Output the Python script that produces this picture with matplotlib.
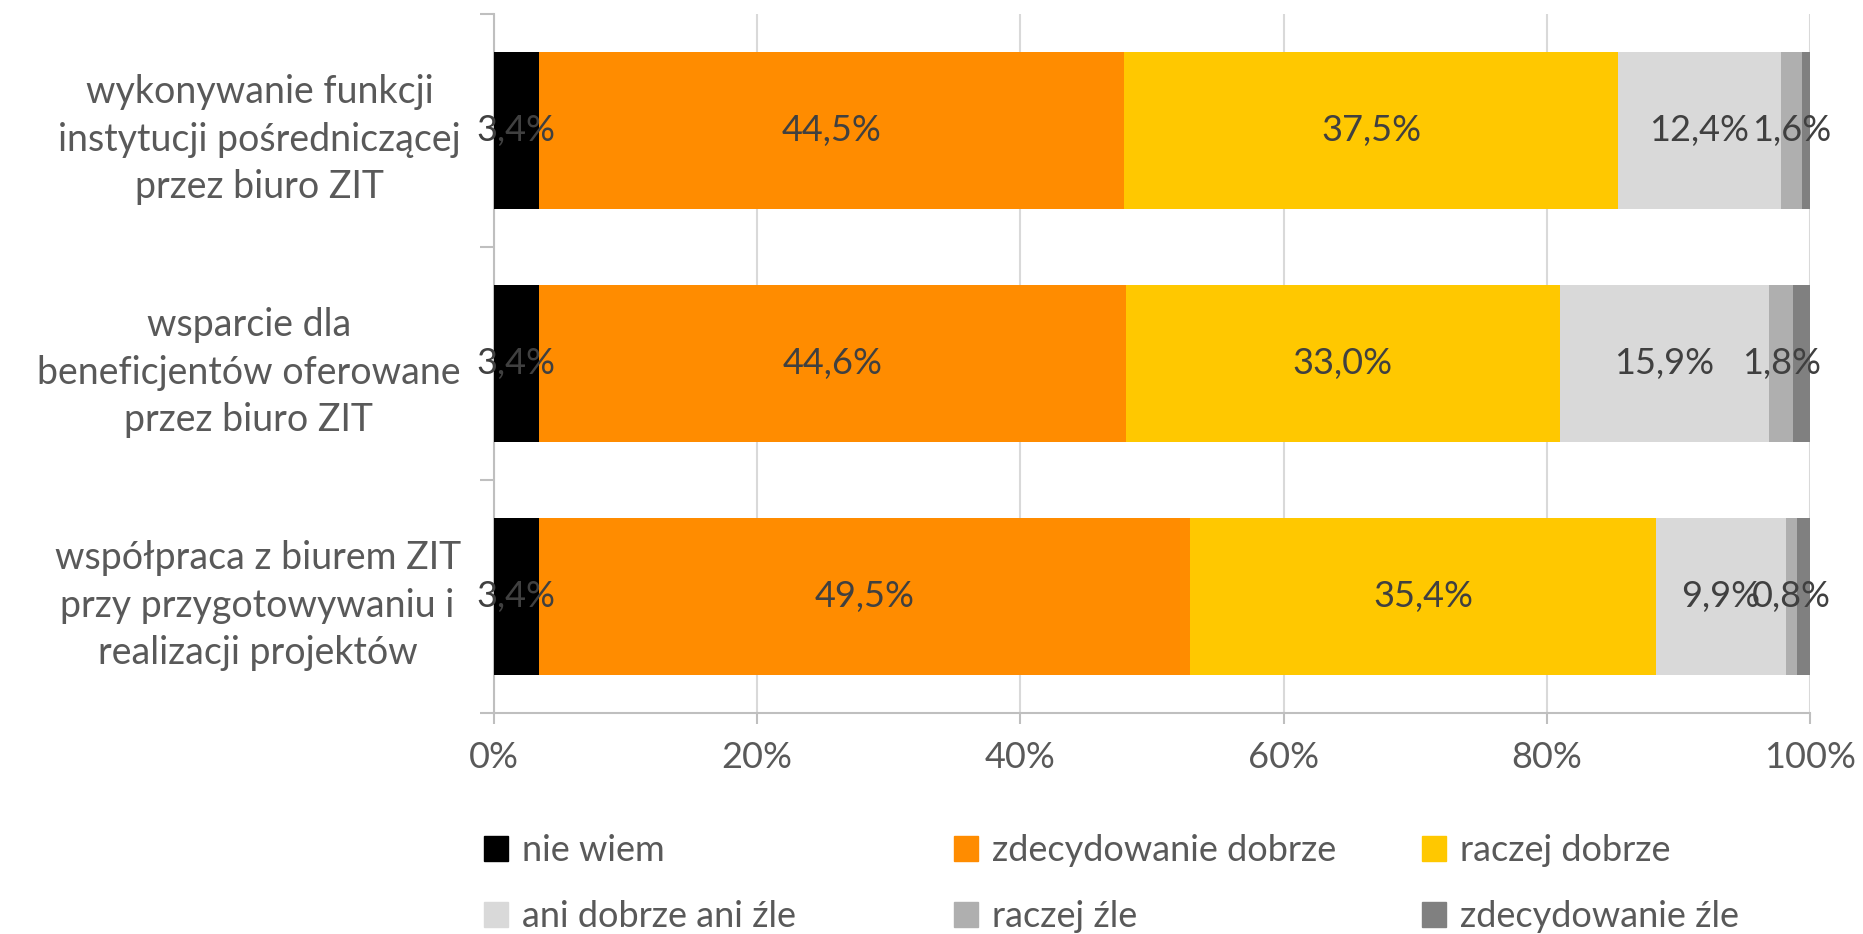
import matplotlib.pyplot as plt
import numpy as np
from matplotlib.patches import Patch

categories = [
    "wykonywanie funkcji\ninstytucji pośredniczącej\nprzez biuro ZIT",
    "wsparcie dla\nbeneficjentów oferowane\nprzez biuro ZIT",
    "współpraca z biurem ZIT\nprzy przygotowywaniu i\nrealizacji projektów",
]
series = ["nie wiem", "zdecydowanie dobrze", "raczej dobrze",
          "ani dobrze ani źle", "raczej źle", "zdecydowanie źle"]
nie_wiem = [3.4, 3.4, 3.4]
zdec_dobrze = [44.5, 44.6, 49.5]
raczej_dobrze = [37.5, 33.0, 35.4]
ani_ani = [12.4, 15.9, 9.9]
raczej_zle = [1.6, 1.8, 0.8]
zdec_zle = [0.6, 1.3, 1.0]
colors = ["#000000", "#ff8c00", "#ffc800", "#d9d9d9", "#afafaf", "#808080"]
show_label = [True, True, True, True, True, False]

plt.rcParams['font.family'] = ['Lato', 'DejaVu Sans']
txt = "#595959"
fs = 26

fig = plt.figure(figsize=(18.63, 9.34), dpi=100)
ax = fig.add_axes([494 / 1863, 1 - 713 / 934, (1810 - 494) / 1863, (713 - 14) / 934])

values = [nie_wiem, zdec_dobrze, raczej_dobrze, ani_ani, raczej_zle, zdec_zle]
y = np.arange(len(categories))
left = np.zeros(len(categories))
for name, vals, col, lab in zip(series, values, colors, show_label):
    vals = np.array(vals)
    ax.barh(y, vals, left=left, height=0.67, color=col, label=name, zorder=3)
    if lab:
        for yi, (l, v) in enumerate(zip(left, vals)):
            ax.text(l + v / 2, yi, f"{v:.1f}%".replace(".", ","), ha="center", va="center",
                    fontsize=fs, color="#404040", zorder=4)
    left += vals

ax.set_xlim(0, 100)
ax.set_ylim(2.5, -0.5)
ax.set_xticks(range(0, 101, 20))
ax.set_xticklabels([f"{t}%" for t in range(0, 101, 20)], fontsize=fs, color=txt)
ax.set_yticks(y)
ax.set_yticklabels(categories, fontsize=27, color=txt, linespacing=1.4)
ax.tick_params(axis="y", length=0, pad=24)
ax.set_yticks([-0.5, 0.5, 1.5, 2.5], minor=True)
ax.tick_params(axis="y", which="minor", length=10, color="#bfbfbf", width=1.5)
ax.tick_params(axis="x", length=8, color="#bfbfbf", width=1.5, pad=12)
for yl in ax.get_yticklabels():
    yl.set_multialignment("center")
ax.grid(axis="x", color="#d9d9d9", linewidth=1.5, zorder=0)
for s in ["top", "right"]:
    ax.spines[s].set_visible(False)
for s in ["left", "bottom"]:
    ax.spines[s].set_color("#bfbfbf")
    ax.spines[s].set_linewidth(1.5)

# legend: three columns, row-major order like the original
col_x = [470, 940, 1408]
for i, x in enumerate(col_x):
    idx = [i, i + 3]
    fig.legend([Patch(color=colors[j]) for j in idx], [series[j] for j in idx],
               loc="upper left", bbox_to_anchor=(x / 1863, 1 - 820 / 934),
               frameon=False, fontsize=fs, labelcolor=txt, handlelength=0.65,
               handleheight=0.7, handletextpad=0.4, labelspacing=0.9, borderaxespad=0)

fig.savefig("out.png", dpi=100)
